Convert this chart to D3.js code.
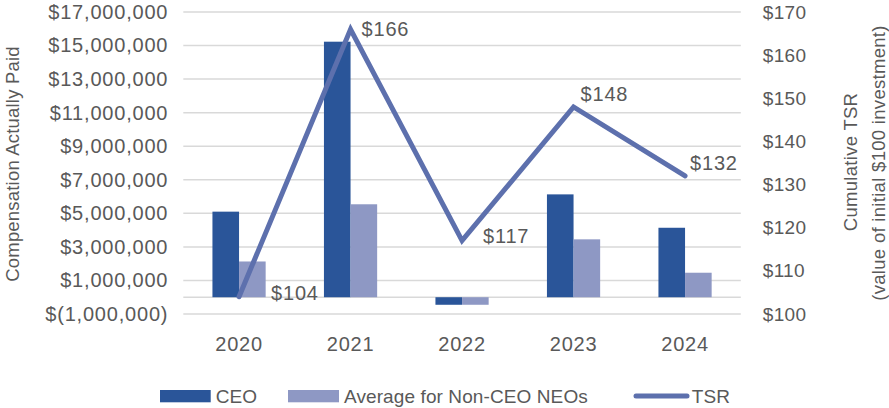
<!DOCTYPE html>
<html>
<head>
<meta charset="utf-8">
<script src="https://cdn.jsdelivr.net/npm/d3@7/dist/d3.min.js"></script>
<style>
  html, body { margin: 0; padding: 0; background: #fff; }
  svg { display: block; font-family: "Liberation Sans", Arial, sans-serif; }
  text { fill: #595959; }
</style>
</head>
<body>
<svg id="chart" width="889" height="408"></svg>
<script>
const years = ["2020", "2021", "2022", "2023", "2024"];
const ceoCAP = [5100000, 15230000, -450000, 6130000, 4140000];
const neoCAP = [2130000, 5540000, -450000, 3450000, 1460000];
const tsr = [104, 166, 117, 148, 132];
const leftTicks = [-1000000, 1000000, 3000000, 5000000, 7000000, 9000000, 11000000, 13000000, 15000000, 17000000];
const rightTicks = [100, 110, 120, 130, 140, 150, 160, 170];
const seriesNames = ["CEO", "Average for Non-CEO NEOs", "TSR"];
// label offsets (dx, dy) relative to each TSR point
const labelOffsets = [[32, -4], [11, 0], [21, -5], [7, -13], [5, -13]];

const colors = { ceo: "#2a5599", neo: "#8e98c4", tsr: "#5d70ad", grid: "#d9d9d9", text: "#595959" };

const svg = d3.select("#chart");
const plotL = 183.3, plotR = 740.8, plotT = 12, plotB = 314;

const x = d3.scaleBand().domain(years).range([plotL, plotR]).padding(0);
const bw = x.bandwidth();
const xSub = d3.scaleBand().domain(["ceo", "neo"]).range([bw * 0.2614, bw * 0.7386]).padding(0);
const yL = d3.scaleLinear().domain([-1000000, 17000000]).range([plotB, plotT]);
const yR = d3.scaleLinear().domain([100, 170]).range([plotB, plotT]);

const fmtMoney = v => v < 0 ? "$(" + d3.format(",")(-v) + ")" : "$" + d3.format(",")(v);

// gridlines
svg.append("g").selectAll("line").data(leftTicks.concat([0])).join("line")
  .attr("x1", plotL).attr("x2", plotR)
  .attr("y1", d => yL(d)).attr("y2", d => yL(d))
  .attr("stroke", colors.grid).attr("stroke-width", 1.5);

// left axis
const gL = svg.append("g").attr("transform", `translate(${plotL},0)`)
  .call(d3.axisLeft(yL).tickValues(leftTicks).tickFormat(fmtMoney).tickSize(0).tickPadding(15));
gL.select(".domain").remove();
gL.selectAll("text").attr("font-size", 20).attr("letter-spacing", 0.8).attr("fill", colors.text)
  .attr("font-family", "Liberation Sans, Arial, sans-serif");

// right axis
const gR = svg.append("g").attr("transform", `translate(${plotR},0)`)
  .call(d3.axisRight(yR).tickValues(rightTicks).tickFormat(d => "$" + d).tickSize(0).tickPadding(22));
gR.select(".domain").remove();
gR.selectAll("text").attr("font-size", 19).attr("letter-spacing", 0.3).attr("fill", colors.text)
  .attr("font-family", "Liberation Sans, Arial, sans-serif");

// bottom axis labels
const gB = svg.append("g").attr("transform", `translate(0,${plotB})`)
  .call(d3.axisBottom(x).tickSize(0).tickPadding(23));
gB.select(".domain").remove();
gB.selectAll("text").attr("font-size", 20).attr("letter-spacing", 0.8).attr("fill", colors.text)
  .attr("font-family", "Liberation Sans, Arial, sans-serif");

// bars
const barData = [];
years.forEach((yr, i) => {
  barData.push({ yr, key: "ceo", v: ceoCAP[i] });
  barData.push({ yr, key: "neo", v: neoCAP[i] });
});
svg.append("g").selectAll("rect").data(barData).join("rect")
  .attr("x", d => x(d.yr) + xSub(d.key))
  .attr("width", xSub.bandwidth())
  .attr("y", d => yL(Math.max(0, d.v)))
  .attr("height", d => Math.abs(yL(d.v) - yL(0)))
  .attr("fill", d => colors[d.key]);

// TSR line
const line = d3.line().x((d, i) => x(years[i]) + bw / 2).y(d => yR(d));
svg.append("path").datum(tsr)
  .attr("d", line).attr("fill", "none")
  .attr("stroke", colors.tsr).attr("stroke-width", 5)
  .attr("stroke-linecap", "round").attr("stroke-linejoin", "miter");

// TSR labels
svg.append("g").selectAll("text").data(tsr).join("text")
  .attr("x", (d, i) => x(years[i]) + bw / 2 + labelOffsets[i][0])
  .attr("y", (d, i) => yR(d) + labelOffsets[i][1])
  .attr("dy", "0.35em")
  .attr("font-size", 20).attr("letter-spacing", 0.8)
  .text(d => "$" + d);

// axis titles
svg.append("text")
  .attr("transform", `translate(19,164) rotate(-90)`)
  .attr("text-anchor", "middle").attr("font-size", 18.5).attr("letter-spacing", 0.2)
  .text("Compensation Actually Paid");
svg.append("text")
  .attr("transform", `translate(857,162) rotate(-90)`)
  .attr("text-anchor", "middle").attr("font-size", 18.5).attr("letter-spacing", 0.3)
  .text("Cumulative TSR");
svg.append("text")
  .attr("transform", `translate(885,163) rotate(-90)`)
  .attr("text-anchor", "middle").attr("font-size", 18.5).attr("letter-spacing", 0.3)
  .text("(value of initial $100 investment)");

// legend
const lg = svg.append("g");
lg.append("rect").attr("x", 160).attr("y", 390).attr("width", 50.7).attr("height", 12.3).attr("fill", colors.ceo);
lg.append("text").attr("x", 215.7).attr("y", 402.5).attr("font-size", 19).attr("letter-spacing", 0.1).text(seriesNames[0]);
lg.append("rect").attr("x", 288).attr("y", 390).attr("width", 51).attr("height", 12.3).attr("fill", colors.neo);
lg.append("text").attr("x", 344).attr("y", 402.5).attr("font-size", 19).attr("letter-spacing", 0.1).text(seriesNames[1]);
lg.append("line").attr("x1", 636).attr("x2", 687).attr("y1", 396).attr("y2", 396)
  .attr("stroke", colors.tsr).attr("stroke-width", 5).attr("stroke-linecap", "round");
lg.append("text").attr("x", 691.7).attr("y", 402.5).attr("font-size", 19).attr("letter-spacing", 0.1).text(seriesNames[2]);
</script>
</body>
</html>
